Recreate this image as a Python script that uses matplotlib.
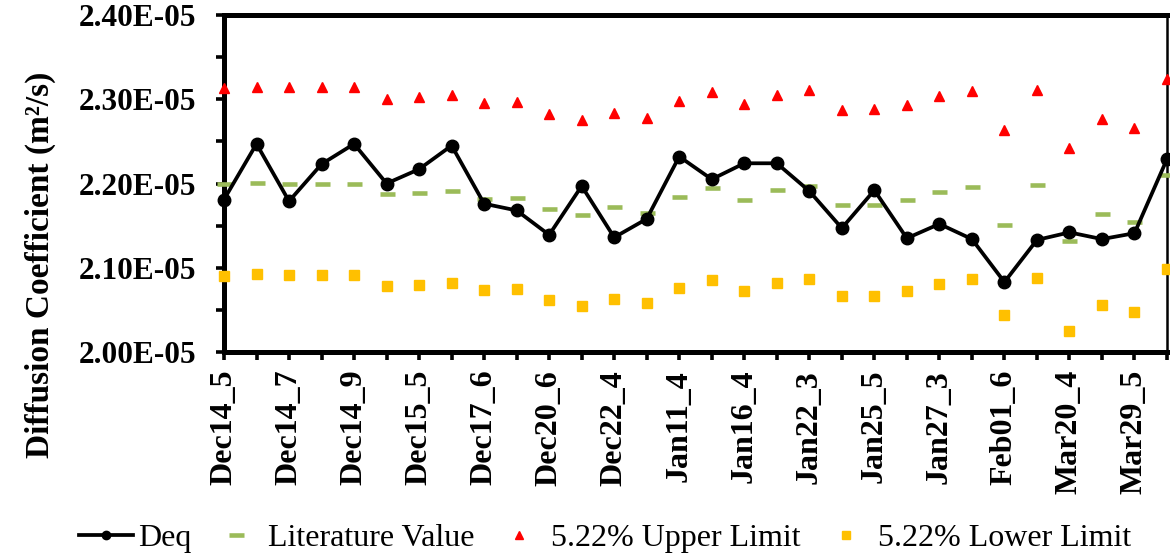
import numpy as np
from matplotlib import pyplot as plt
from matplotlib.ticker import FixedLocator, FuncFormatter, MultipleLocator

# values in units of 1e-5 m^2/s, one per sample (30 samples)
deq = [2.181, 2.247, 2.179, 2.223, 2.247, 2.200, 2.217, 2.245, 2.176, 2.168,
       2.139, 2.197, 2.136, 2.158, 2.232, 2.205, 2.224, 2.224, 2.191, 2.147,
       2.192, 2.135, 2.152, 2.134, 2.083, 2.133, 2.142, 2.134, 2.141, 2.229]
literature = [2.199, 2.201, 2.200, 2.200, 2.200, 2.187, 2.189, 2.191, 2.182, 2.183,
              2.170, 2.163, 2.172, 2.165, 2.184, 2.195, 2.180, 2.192, 2.197, 2.174,
              2.175, 2.180, 2.190, 2.196, 2.151, 2.198, 2.132, 2.164, 2.154, 2.210]
upper = [2.313, 2.315, 2.314, 2.314, 2.315, 2.300, 2.303, 2.305, 2.295, 2.297,
         2.282, 2.275, 2.284, 2.278, 2.298, 2.309, 2.294, 2.305, 2.311, 2.287,
         2.288, 2.293, 2.304, 2.310, 2.263, 2.311, 2.242, 2.276, 2.266, 2.324]
lower = [2.090, 2.092, 2.091, 2.091, 2.091, 2.078, 2.080, 2.082, 2.073, 2.075,
         2.062, 2.055, 2.063, 2.058, 2.076, 2.086, 2.072, 2.082, 2.087, 2.066,
         2.067, 2.072, 2.081, 2.087, 2.044, 2.088, 2.025, 2.056, 2.047, 2.099]

# only every second sample is labelled on the axis
tick_labels = ['Dec14_5', '', 'Dec14_7', '', 'Dec14_9', '', 'Dec15_5', '',
               'Dec17_6', '', 'Dec20_6', '', 'Dec22_4', '', 'Jan11_4', '',
               'Jan16_4', '', 'Jan22_3', '', 'Jan25_5', '', 'Jan27_3', '',
               'Feb01_6', '', 'Mar20_4', '', 'Mar29_5', '']

plt.rcParams['font.family'] = ['Liberation Serif', 'DejaVu Serif']

x = np.arange(len(deq))
scale = 1e-5

fig = plt.figure(figsize=(11.7, 5.58), dpi=100)
ax = fig.add_axes([224 / 1170, 1 - 352 / 558, (1167 - 224) / 1170, (352 - 15) / 558])

ax.plot(x, np.array(deq) * scale, color='black', linewidth=2.7, marker='o',
        markersize=9, label='Deq', zorder=4, clip_on=False)
ax.plot(x, np.array(literature) * scale, linestyle='none', marker='_',
        markersize=10.8, markeredgewidth=3.3, color='#9BBB59',
        label='Literature Value', zorder=3, clip_on=False)
ax.plot(x, np.array(upper) * scale, linestyle='none', marker='^',
        markersize=7.2, color='#FF0000', label='5.22% Upper Limit',
        zorder=3, clip_on=False)
ax.plot(x, np.array(lower) * scale, linestyle='none', marker='s',
        markersize=7.8, color='#FFC000', label='5.22% Lower Limit',
        zorder=3, clip_on=False)

ax.set_xlim(0, len(deq) - 1)
ax.set_ylim(2.0e-5, 2.4e-5)

ax.xaxis.set_major_locator(FixedLocator(x))
ax.set_xticklabels(tick_labels, rotation=90, fontsize=23, fontweight='bold')
ax.yaxis.set_major_locator(MultipleLocator(0.1e-5))
ax.yaxis.set_minor_locator(MultipleLocator(0.05e-5))
ax.yaxis.set_major_formatter(FuncFormatter(lambda v, p: f'{v:.2E}'))
for lbl in ax.get_yticklabels():
    lbl.set_fontsize(22.5)
    lbl.set_fontweight('bold')

ax.tick_params(axis='x', which='major', direction='out', length=5.8, width=2.6, pad=7)
ax.tick_params(axis='y', which='both', direction='out', length=5.8, width=2.6, pad=14)

for side in ['left', 'top', 'bottom']:
    ax.spines[side].set_linewidth(3.6)
ax.spines['right'].set_linewidth(1.8)

ax.set_ylabel('Diffusion Coefficient (m²/s)', fontsize=24, fontweight='bold')
ax.yaxis.set_label_coords(-0.178, 0.26, transform=ax.transAxes)

leg = fig.legend(loc='center', bbox_to_anchor=(605 / 1170, 1 - 538 / 558), ncol=4,
                 frameon=False, fontsize=23, handlelength=1.7, handletextpad=0.15,
                 columnspacing=0.55, borderaxespad=0)
sizes = [6.0, 10.8, 5.2, 5.2]
for h, s in zip(leg.legend_handles, sizes):
    h.set_markersize(s)

fig.savefig('out.png', dpi=100)
